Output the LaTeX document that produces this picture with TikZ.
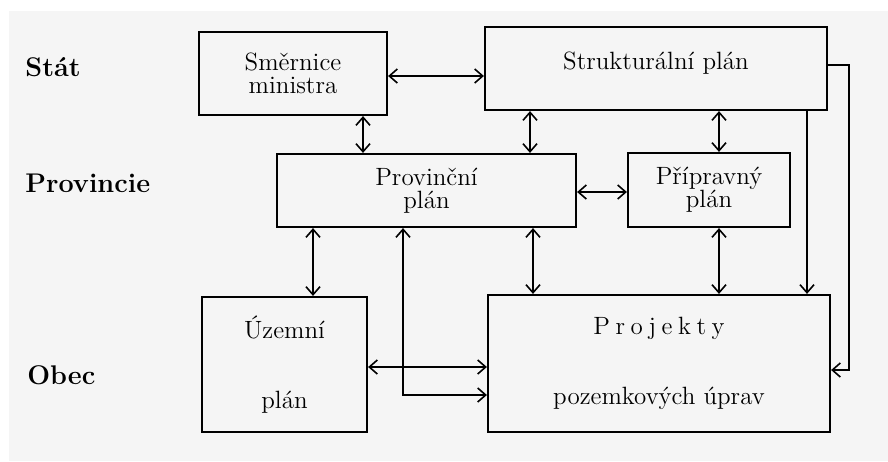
\documentclass[tikz,border=0pt]{standalone}
\usepackage{fontspec}
\usepackage{tikz}
\usetikzlibrary{arrows.meta}

\begin{document}
\begin{tikzpicture}[x=0.5pt, y=-0.5pt,
  box/.style={draw, line width=1.1pt, align=center, inner sep=0pt, font=\fontsize{12.5}{11.5}\selectfont},
  lvl/.style={anchor=west, inner sep=0pt, font=\fontsize{13.5}{15}\selectfont\bfseries},
  both/.style={{Straight Barb[length=4pt,width=7pt]}-{Straight Barb[length=4pt,width=7pt]}, line width=0.8pt},
  one/.style={-{Straight Barb[length=4pt,width=7pt]}, line width=0.8pt}
]
\useasboundingbox (0,0) rectangle (888,461);
\fill[white] (0,0) rectangle (888,461);
\fill[black!4] (9,11) rectangle (888,461);

\node[lvl] (stat) at (25,67) {Stát};
\node[lvl] (prov) at (25,183) {Provincie};
\node[lvl] (obec) at (27,375) {Obec};

\node[box, minimum width=94pt, minimum height=41.5pt] (smer) at (293,73.5) {Směrnice\\ministra};
\node[box, minimum width=171pt, minimum height=41.5pt] (strukt) at (656,68.5) {Strukturální plán\\[-4pt]\mbox{}};
\node[box, minimum width=149.5pt, minimum height=36.5pt] (provin) at (426.5,190.5) {Provinční\\plán};
\node[box, minimum width=81pt, minimum height=37pt] (priprav) at (709,190) {Přípravný\\plán};
\node[box, minimum width=82.5pt, minimum height=67.5pt] (uzem) at (284.5,364.5) {Územní\\[23.5pt]plán};
\node[box, minimum width=171pt, minimum height=68.5pt] (proj) at (659,363.5)
  {P\kern2.8pt r\kern2.8pt o\kern2.8pt j\kern2.8pt e\kern2.8pt k\kern2.8pt t\kern2.8pt y\\[23.5pt]pozemkových úprav};

\draw[both] (smer.east |- 0,76) -- (strukt.west |- 0,76);
\draw[both] (smer.south -| 363,0) -- (provin.north -| 363,0);
\draw[both] (strukt.south -| 530,0) -- (provin.north -| 530,0);
\draw[both] (strukt.south -| 719,0) -- (priprav.north -| 719,0);
\draw[both] (provin.east |- 0,192) -- (priprav.west |- 0,192);
\draw[one] (strukt.south -| 807,0) -- (proj.north -| 807,0);
\draw[one] (strukt.east |- 0,65) -| (849,370) -- (proj.east |- 0,370);
\draw[both] (provin.south -| 313,0) -- (uzem.north -| 313,0);
\draw[both] (provin.south -| 533,0) -- (proj.north -| 533,0);
\draw[both] (priprav.south -| 719,0) -- (proj.north -| 719,0);
\draw[both] (uzem.east |- 0,367) -- (proj.west |- 0,367);
\draw[both] (provin.south -| 403,0) |- (proj.west |- 0,395);
\end{tikzpicture}
\end{document}
